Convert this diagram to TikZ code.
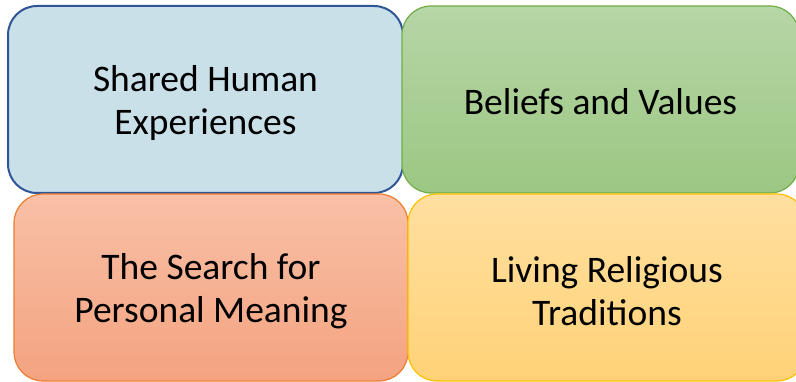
\documentclass[tikz,border=0pt]{standalone}
\usepackage{fontspec}
\setmainfont{Carlito}
\definecolor{bluefill}{HTML}{C9E0E8}
\definecolor{blueline}{HTML}{2F5597}
\definecolor{greentop}{HTML}{B6D6A6}
\definecolor{greenbot}{HTML}{9CC783}
\definecolor{greenline}{HTML}{70AD47}
\definecolor{orangetop}{HTML}{F8C0A6}
\definecolor{orangebot}{HTML}{F4A380}
\definecolor{orangeline}{HTML}{ED7D31}
\definecolor{yellowtop}{HTML}{FFDFA0}
\definecolor{yellowbot}{HTML}{FFD277}
\definecolor{yellowline}{HTML}{FFC000}
\tikzset{
  tile/.style={rounded corners=29pt, minimum height=187pt, inner sep=0pt},
  tiletext/.style={align=center, inner sep=0pt, text=black,
    font=\fontsize{37.5}{43}\selectfont},
}
\begin{document}
\begin{tikzpicture}[x=1pt,y=-1pt]
\useasboundingbox (0,0) rectangle (796,382);
\node[tile, draw=blueline, line width=2pt, fill=bluefill, minimum width=395pt] (exp) at (205.5,99.5) {};
\node[tile, draw=greenline, line width=1.2pt, top color=greentop, bottom color=greenbot, minimum width=397pt] (bel) at (600.5,99.5) {};
\node[tile, draw=orangeline, line width=1.2pt, top color=orangetop, bottom color=orangebot, minimum width=394pt] (mean) at (211,287.5) {};
\node[tile, draw=yellowline, line width=1.2pt, top color=yellowtop, bottom color=yellowbot, minimum width=398pt] (trad) at (607,287.5) {};
\node[tiletext, yshift=-4pt] (expt) at (exp.center) {Shared Human\\Experiences};
\node[tiletext, yshift=-2pt] (belt) at (bel.center) {Beliefs and Values};
\node[tiletext, yshift=-4pt] (meant) at (mean.center) {The Search for\\Personal Meaning};
\node[tiletext, yshift=-4pt] (tradt) at (trad.center) {Living Religious\\Traditions};
\end{tikzpicture}
\end{document}
